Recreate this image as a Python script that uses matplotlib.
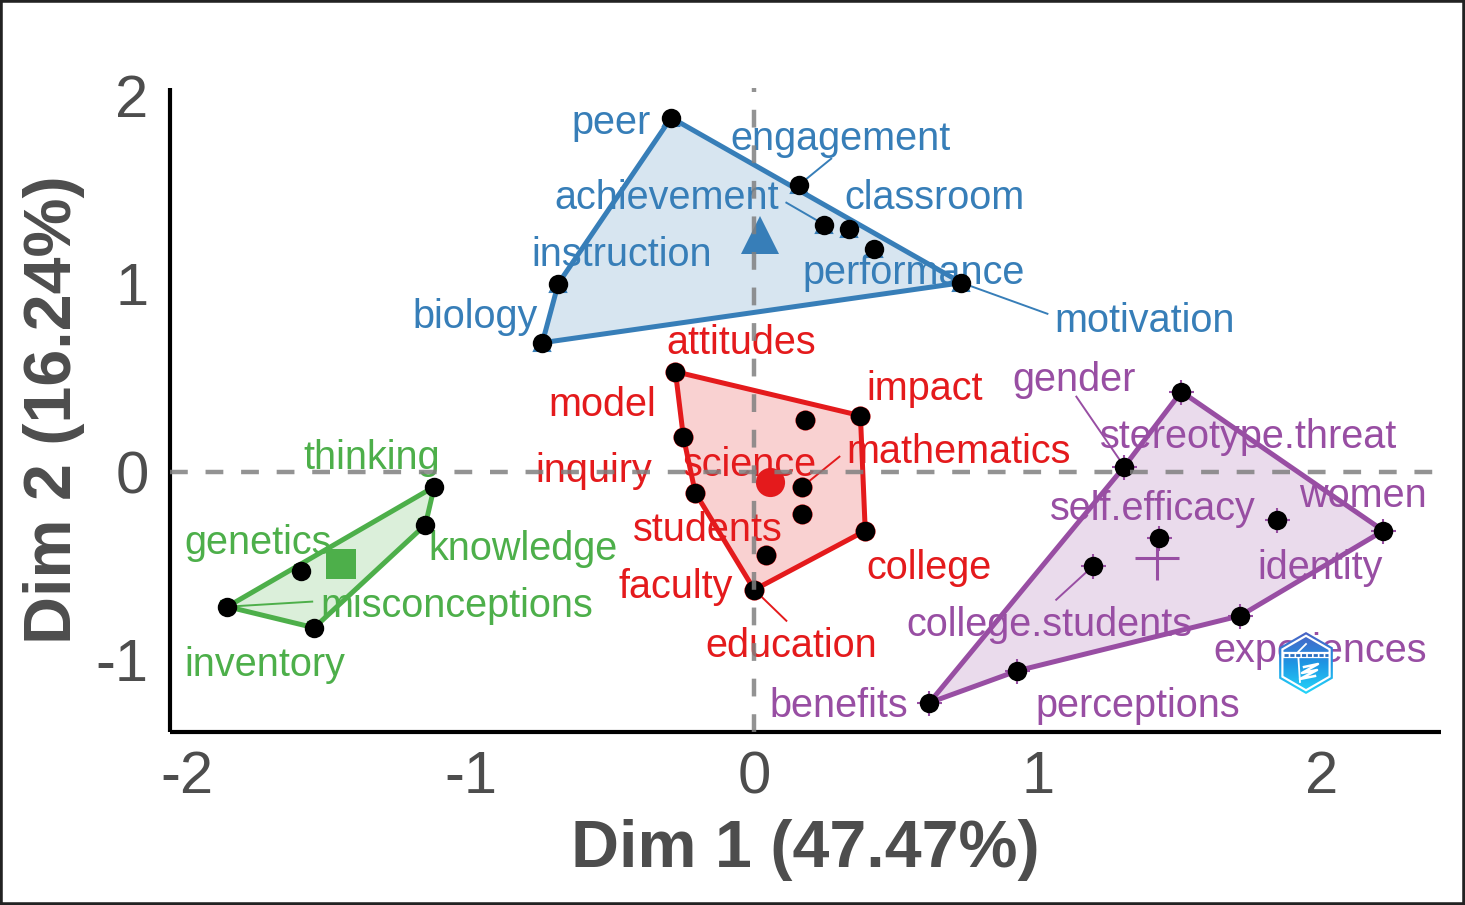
import numpy as np
import matplotlib
matplotlib.use("Agg")
import matplotlib.pyplot as plt
from matplotlib.patches import Polygon, Rectangle

plt.rcParams['font.family'] = ['Liberation Sans', 'DejaVu Sans']

# red cluster
red_names = ["attitudes", "impact", "science", "model", "mathematics", "inquiry", "students", "college", "faculty", "education"]
red_x = [-0.278, 0.374, 0.180, -0.250, 0.169, -0.208, 0.169, 0.391, 0.042, 0.000]
red_y = [0.532, 0.298, 0.277, 0.186, -0.080, -0.112, -0.223, -0.314, -0.441, -0.628]
red_hull = [0, 1, 7, 9, 5, 3]
red_lab_x = [-0.049, 0.599, -0.018, -0.539, 0.719, -0.567, -0.166, 0.613, -0.278, 0.127]
red_lab_y = [0.697, 0.457, 0.053, 0.367, 0.117, 0.016, -0.293, -0.495, -0.601, -0.910]
red_center = (0.056, -0.053)

# blue cluster
blue_names = ["peer", "engagement", "achievement", "classroom", "performance", "motivation", "instruction", "biology"]
blue_x = [-0.293, 0.159, 0.247, 0.335, 0.423, 0.730, -0.691, -0.747]
blue_y = [1.883, 1.527, 1.314, 1.293, 1.186, 1.005, 1.000, 0.686]
blue_hull = [0, 5, 7, 6]
blue_lab_x = [-0.507, 0.300, -0.310, 0.634, 0.560, 1.374, -0.469, -0.987]
blue_lab_y = [1.872, 1.782, 1.473, 1.473, 1.074, 0.814, 1.165, 0.840]
blue_center = (0.020, 1.261)

# green cluster
green_names = ["thinking", "knowledge", "genetics", "misconceptions", "inventory"]
green_x = [-1.128, -1.159, -1.596, -1.857, -1.551]
green_y = [-0.080, -0.282, -0.527, -0.718, -0.830]
green_hull = [0, 1, 4, 3]
green_lab_x = [-1.350, -0.818, -1.752, -1.050, -1.727]
green_lab_y = [0.090, -0.394, -0.367, -0.702, -1.011]
green_center = (-1.456, -0.489)

# purple cluster
purple_names = ["stereotype.threat", "gender", "women", "identity", "self.efficacy", "college.students", "experiences", "perceptions", "benefits"]
purple_x = [1.505, 1.304, 2.217, 1.843, 1.427, 1.195, 1.713, 0.927, 0.617]
purple_y = [0.426, 0.027, -0.314, -0.255, -0.351, -0.500, -0.766, -1.059, -1.229]
purple_hull = [0, 2, 6, 7, 8, 1]
purple_lab_x = [1.741, 1.124, 2.143, 1.991, 1.403, 1.036, 1.991, 1.350, 0.296]
purple_lab_y = [0.197, 0.500, -0.112, -0.495, -0.186, -0.798, -0.941, -1.234, -1.234]
purple_center = (1.420, -0.457)

# repel segments: point index, end of segment
red_segs = [(4, 0.300, 0.080), (9, 0.113, -0.793)]
blue_segs = [(1, 0.271, 1.665), (2, 0.113, 1.431), (5, 1.033, 0.840)]
green_segs = [(3, -1.558, -0.691)]
purple_segs = [(1, 1.135, 0.399), (5, 1.064, -0.681)]

x_ticks = [-2, -1, 0, 1, 2]
y_ticks = [-1, 0, 1, 2]

W, H = 1465, 905
fig = plt.figure(figsize=(W / 100, H / 100), dpi=100)
fig.add_artist(Rectangle((0, 0), 1, 1, transform=fig.transFigure, fill=False, ec="#222222", lw=4))

ax = fig.add_axes([169.5 / W, 1 - 732 / H, 1271.5 / W, 644 / H])
ax.set_xlim((169.5 - 754.3) / 283.75, (1441 - 754.3) / 283.75)
ax.set_ylim((471.7 - 732) / 188, (471.7 - 88) / 188)


def draw_cluster(names, xs, ys, hull, lab_x, lab_y, segs, center, color, marker, small_ms, big_ms, mew):
    xs = np.array(xs)
    ys = np.array(ys)
    pts = np.column_stack([xs[hull], ys[hull]])
    ax.add_patch(Polygon(pts, closed=True, fc=color, alpha=0.2, ec="none", zorder=1))
    ax.add_patch(Polygon(pts, closed=True, fill=False, ec=color, lw=3.6, zorder=2, joinstyle="round"))
    ax.plot(xs, ys, ls="none", marker=marker, color=color, ms=small_ms, mew=1.5, zorder=3)
    ax.plot(xs, ys, ls="none", marker="o", color="black", ms=14, mew=0, zorder=6)
    ax.plot([center[0]], [center[1]], ls="none", marker=marker, color=color, ms=big_ms, mew=mew, zorder=4)
    for i, ex, ey in segs:
        ax.plot([xs[i], ex], [ys[i], ey], color=color, lw=1.4, zorder=3)
    for name, tx, ty in zip(names, lab_x, lab_y):
        ax.annotate(name, (tx, ty), xytext=(0.5, -2), textcoords="offset points", color=color,
                    fontsize=28.5, ha="center", va="center", zorder=5)


draw_cluster(red_names, red_x, red_y, red_hull, red_lab_x, red_lab_y, red_segs, red_center, "#E41A1C", "o", 13, 21, 0)
draw_cluster(blue_names, blue_x, blue_y, blue_hull, blue_lab_x, blue_lab_y, blue_segs, blue_center, "#377EB8", "^", 12, 27, 0)
draw_cluster(green_names, green_x, green_y, green_hull, green_lab_x, green_lab_y, green_segs, green_center, "#4DAF4A", "s", 9, 21, 0)
draw_cluster(purple_names, purple_x, purple_y, purple_hull, purple_lab_x, purple_lab_y, purple_segs, purple_center, "#984EA3", "+", 18, 32, 2.2)

ax.axhline(0, color="#808080", alpha=0.85, lw=3.2, dashes=(4, 4), dash_capstyle="butt", zorder=7)
ax.axvline(0, color="#808080", alpha=0.85, lw=3.2, dashes=(4, 4), dash_capstyle="butt", zorder=7)

for s in ["top", "right"]:
    ax.spines[s].set_visible(False)
for s in ["left", "bottom"]:
    ax.spines[s].set_linewidth(3)
    ax.spines[s].set_color("black")
    ax.spines[s].set_capstyle("butt")
ax.set_xticks(x_ticks)
ax.set_yticks(y_ticks)
ax.tick_params(length=0, labelsize=43, labelcolor="#4D4D4D")
ax.tick_params(axis="x", pad=13)
ax.tick_params(axis="y", pad=15)
ax.set_xticklabels([str(t) for t in x_ticks])
ax.set_yticklabels([str(t) for t in y_ticks])
ax.set_xlabel("Dim 1 (47.47%)", fontsize=47.8, fontweight="bold", color="#4D4D4D", labelpad=10)
ax.set_ylabel("Dim 2 (16.24%)", fontsize=47.8, fontweight="bold", color="#4D4D4D", labelpad=8)

# little hexagon logo sitting over the label
logo = fig.add_axes([1276 / W, 1 - 695 / H, 60 / W, 65 / H])
logo.axis("off")
cmap = matplotlib.colors.LinearSegmentedColormap.from_list("logo", ["#4A62C4", "#1E96E4", "#25D8FA"])
grad = np.linspace(0, 1, 64)[:, None]


def hexagon(r):
    a = np.radians([90, 30, -30, -90, -150, 150])
    return np.column_stack([1306 + r * np.cos(a), 663 - r * np.sin(a)])


outer = Polygon(hexagon(31), closed=True, fc="none", ec="none")
logo.add_patch(outer)
im = logo.imshow(grad, extent=(1276, 1336, 695, 632), cmap=cmap, aspect="auto", zorder=1)
im.set_clip_path(outer)
logo.add_patch(Polygon(hexagon(28.5), closed=True, fc="white", ec="none", zorder=2))
inner = Polygon(hexagon(26), closed=True, fc="none", ec="none", zorder=3)
logo.add_patch(inner)
im2 = logo.imshow(grad, extent=(1276, 1336, 695, 632), cmap=cmap, aspect="auto", zorder=3)
im2.set_clip_path(inner)
logo.set_xlim(1276, 1336)
logo.set_ylim(695, 630)
logo.plot([1283, 1329], [655, 655], color="white", lw=4.5, solid_capstyle="butt", zorder=4)
logo.plot([1284, 1328], [655, 655], color="#2A6FC0", lw=2, dashes=(1.5, 0.6), zorder=5)
logo.plot([1304, 1318, 1302, 1317, 1300, 1315], [667, 664, 673, 670, 679, 676], color="white", lw=1.8, zorder=4)
logo.plot([1306, 1298, 1300], [644, 652, 682], color="white", lw=1.3, zorder=4)

fig.savefig("out.png", dpi=100)
